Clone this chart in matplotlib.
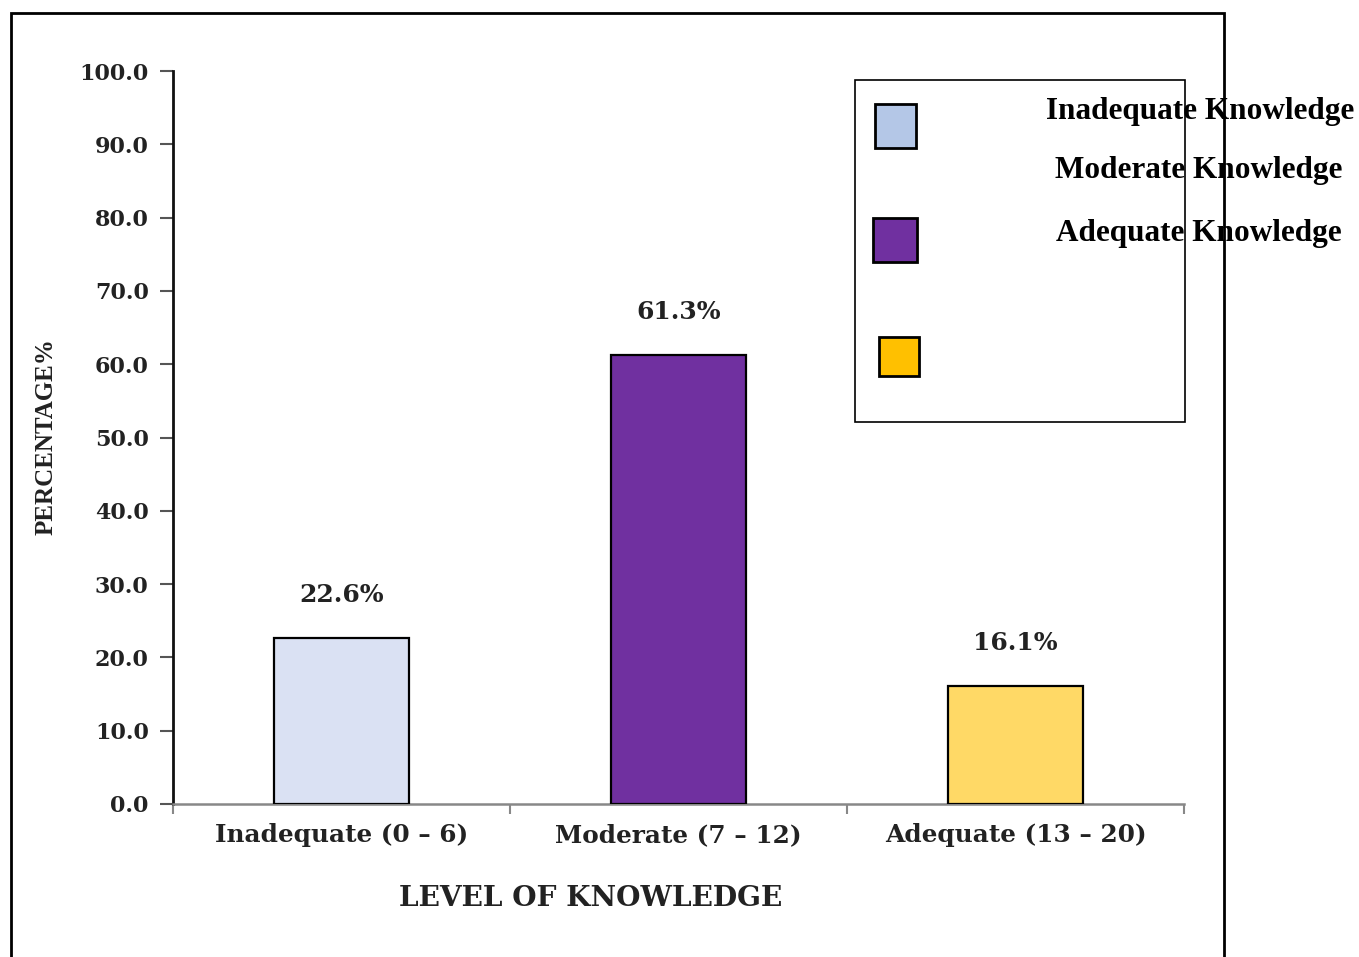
import matplotlib.pyplot as plt
from matplotlib.patches import Rectangle
import numpy as np

# knowledge level data
levels = ["Inadequate (0 \u2013 6)", "Moderate (7 \u2013 12)", "Adequate (13 \u2013 20)"]
percent = [22.6, 61.3, 16.1]
bar_colors = ["#DAE1F3", "#7030A0", "#FFD966"]

legend_labels = ["Inadequate Knowledge", "Moderate Knowledge", "Adequate Knowledge"]
legend_colors = ["#B4C7E7", "#7030A0", "#FFC000"]

W, H = 1359, 957
fig = plt.figure(figsize=(W / 100, H / 100), dpi=100)
fig.patch.set_facecolor("white")

def fx(px):
    return px / W

def fy(py):
    return 1 - py / H

ax = fig.add_axes([fx(173), fy(804), fx(1184) - fx(173), fy(71) - fy(804)])

x = np.arange(len(levels))
ax.bar(x, percent, width=0.4, color=bar_colors, edgecolor="black", linewidth=1.6, zorder=3)

for xi, v in zip(x, percent):
    ax.annotate(f"{v}%", (xi, v), xytext=(0, 31), textcoords="offset points",
                ha="center", va="center", fontsize=18, fontweight="bold",
                family="DejaVu Serif", color="#222222")

ax.set_xlim(-0.5, 2.5)
ax.set_ylim(0, 100)
ax.set_yticks(np.arange(0, 101, 10))
ax.set_yticklabels([f"{t:.1f}" for t in np.arange(0, 101, 10)])

# boundary ticks as majors, category names as minors
ax.set_xticks([-0.5, 0.5, 1.5, 2.5])
ax.set_xticklabels([])
ax.set_xticks(x, minor=True)
ax.set_xticklabels(levels, minor=True)
ax.tick_params(axis="x", which="minor", length=0, pad=14, labelsize=17.8)
ax.tick_params(axis="x", which="major", length=7, width=1.5, color="#888888", direction="out")
ax.tick_params(axis="y", length=9.5, width=1.5, color="#555555", pad=8, labelsize=16)
for lab in ax.get_xticklabels(minor=True) + ax.get_yticklabels():
    lab.set_family("DejaVu Serif")
    lab.set_fontweight("bold")
    lab.set_color("#222222")

for s in ["top", "right"]:
    ax.spines[s].set_visible(False)
ax.spines["left"].set_linewidth(2)
ax.spines["left"].set_color("#111111")
ax.spines["bottom"].set_linewidth(1.8)
ax.spines["bottom"].set_color("#888888")

fig.text(fx(46), fy(437), "PERCENTAGE%", rotation=90, ha="center", va="center",
         fontsize=18, fontweight="bold", family="Liberation Serif", color="#222222")
fig.text(fx(591), fy(898), "LEVEL OF KNOWLEDGE", ha="center", va="center",
         fontsize=20.2, fontweight="bold", family="DejaVu Serif", color="#222222")

# outer frame
fig.add_artist(Rectangle((fx(11), fy(980)), fx(1224) - fx(11), fy(13) - fy(980),
                         transform=fig.transFigure, fill=False, edgecolor="black",
                         linewidth=2, clip_on=False))

# legend box
fig.add_artist(Rectangle((fx(855), fy(422)), fx(1185) - fx(855), fy(80) - fy(422),
                         transform=fig.transFigure, fill=False, edgecolor="black", linewidth=1.2))
patch_boxes = [(875, 104, 41, 44), (873, 218, 44, 44), (879, 337, 40, 39)]
for (px, py, pw, ph), c in zip(patch_boxes, legend_colors):
    fig.add_artist(Rectangle((fx(px), fy(py + ph)), fx(pw), ph / H,
                             transform=fig.transFigure, facecolor=c, edgecolor="black", linewidth=2))
text_rows = [(1200, 111), (1199, 171), (1199, 234)]
for (tx, ty), lab in zip(text_rows, legend_labels):
    fig.text(fx(tx), fy(ty), lab, ha="center", va="center", fontsize=22.5,
             fontweight="bold", family="Liberation Serif", color="black")

fig.savefig("out.png", dpi=100, facecolor="white")
